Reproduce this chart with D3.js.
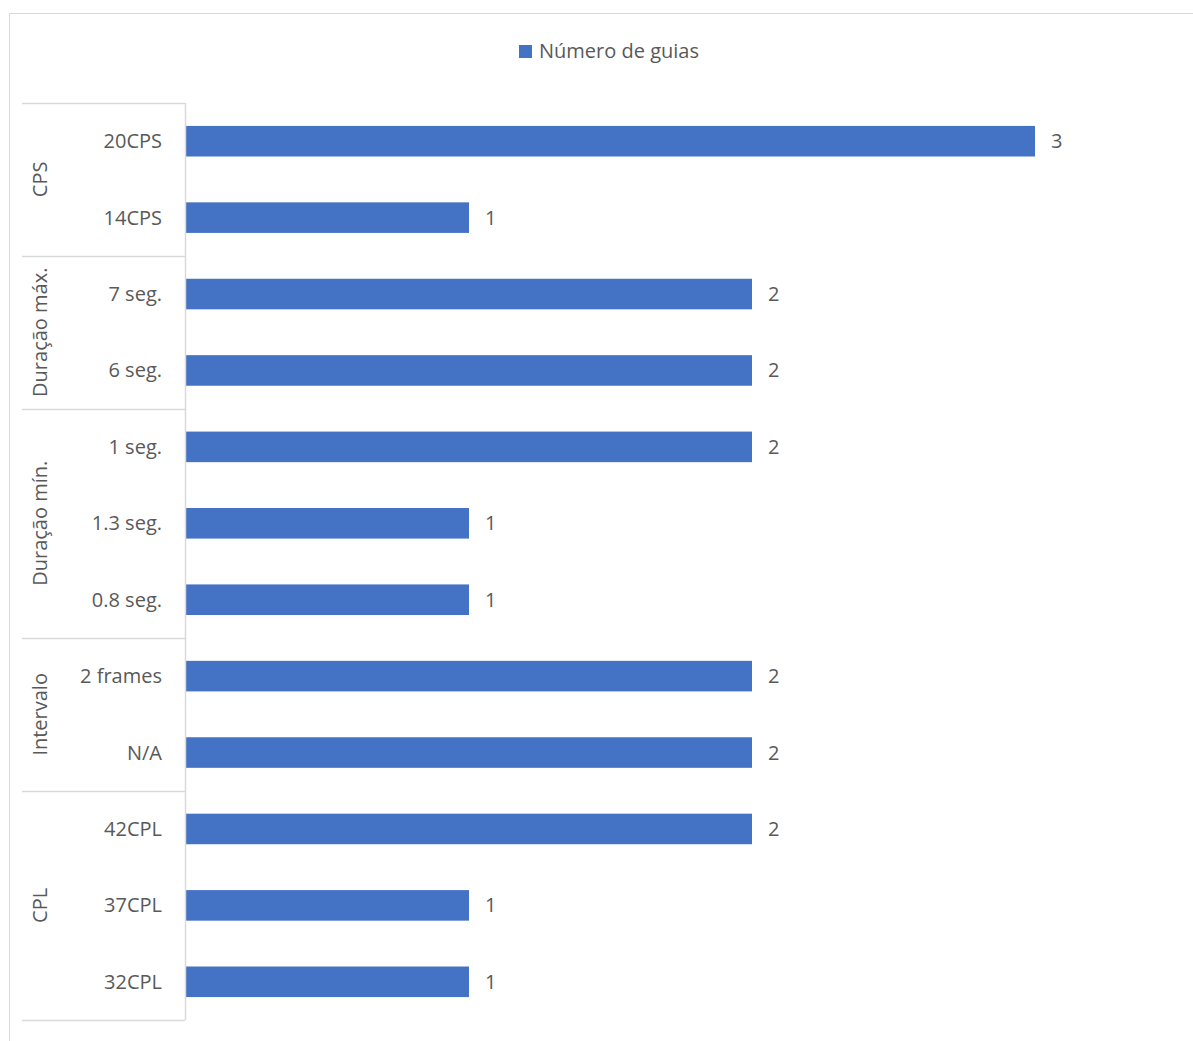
<!DOCTYPE html>
<html>
<head>
<meta charset="utf-8">
<script src="https://cdn.jsdelivr.net/npm/d3@7"></script>
<style>
  body { margin: 0; background: white; }
  svg { display: block; font-family: "Open Sans", sans-serif; }
</style>
</head>
<body>
<script>
// categories, top to bottom, with their group
const groups = ["CPS", "Duração máx.", "Duração mín.", "Intervalo", "CPL"];
const groupSizes = [2, 2, 3, 2, 3];
const categories = ["20CPS", "14CPS", "7 seg.", "6 seg.", "1 seg.", "1.3 seg.", "0.8 seg.", "2 frames", "N/A", "42CPL", "37CPL", "32CPL"];
const values = [3, 1, 2, 2, 2, 1, 1, 2, 2, 2, 1, 1];
const seriesName = "Número de guias";

const width = 1193, height = 1041;
const color = "#4472c4", textColor = "#595959", lineColor = "#d9d9d9";
const fontSize = "20px";

const svg = d3.select("body").append("svg")
    .attr("width", width)
    .attr("height", height);

// chart frame
svg.append("rect")
    .attr("x", 9.5).attr("y", 13.5)
    .attr("width", 1300).attr("height", 1200)
    .attr("fill", "white")
    .attr("stroke", lineColor);

const y = d3.scaleBand()
    .domain(categories)
    .range([103, 1020])
    .paddingInner(0.6)
    .paddingOuter(0.3);

const x = d3.scaleLinear()
    .domain([0, 3])
    .range([186, 1035]);

// bars
svg.append("g")
  .selectAll("rect")
  .data(categories)
  .join("rect")
    .attr("x", x(0))
    .attr("y", d => y(d))
    .attr("width", (d, i) => x(values[i]) - x(0))
    .attr("height", y.bandwidth())
    .attr("fill", color);

// value labels
svg.append("g")
    .attr("fill", textColor)
    .style("font-size", fontSize)
  .selectAll("text")
  .data(categories)
  .join("text")
    .attr("x", (d, i) => x(values[i]) + 16)
    .attr("y", d => y(d) + y.bandwidth() / 2)
    .attr("dy", "0.35em")
    .text((d, i) => values[i]);

// category labels
svg.append("g")
    .attr("fill", textColor)
    .attr("text-anchor", "end")
    .style("font-size", fontSize)
  .selectAll("text")
  .data(categories)
  .join("text")
    .attr("x", 162)
    .attr("y", d => y(d) + y.bandwidth() / 2)
    .attr("dy", "0.35em")
    .text(d => d);

// group axis: lines and rotated labels
const step = y.step();
const axis = svg.append("g");
axis.append("line")
    .attr("x1", 185.5).attr("x2", 185.5)
    .attr("y1", 103).attr("y2", 1020)
    .attr("stroke", lineColor).attr("stroke-width", 1.5);

let start = 0;
const bounds = [103];
groups.forEach((g, gi) => {
  const y0 = 103 + start * step;
  const y1 = y0 + groupSizes[gi] * step;
  bounds.push(y1);
  axis.append("text")
      .attr("transform", `translate(47,${(y0 + y1) / 2}) rotate(-90)`)
      .attr("text-anchor", "middle")
      .attr("fill", textColor)
      .style("font-size", fontSize)
      .text(g);
  start += groupSizes[gi];
});

axis.selectAll("line.sep")
  .data(bounds)
  .join("line")
    .attr("class", "sep")
    .attr("x1", 22).attr("x2", 185)
    .attr("y1", d => Math.round(d) + 0.5).attr("y2", d => Math.round(d) + 0.5)
    .attr("stroke", lineColor).attr("stroke-width", 1.5);

// legend
const legend = svg.append("g").attr("transform", "translate(519,45)");
legend.append("rect")
    .attr("width", 13).attr("height", 13)
    .attr("fill", color);
legend.append("text")
    .attr("x", 20).attr("y", 13)
    .attr("fill", textColor)
    .style("font-size", fontSize)
    .text(seriesName);
</script>
</body>
</html>
